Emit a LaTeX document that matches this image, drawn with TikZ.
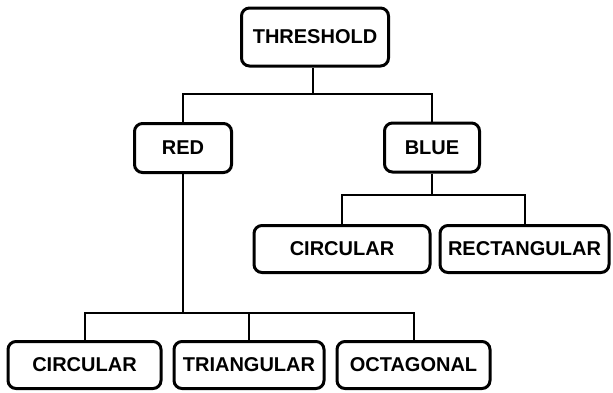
\documentclass[tikz,border=0pt]{standalone}
\usepackage{fontspec}
\setmainfont{Liberation Sans}
\begin{document}
\begin{tikzpicture}[x=1pt,y=-1pt,
  box/.style={draw=black, line width=3pt, rounded corners=8pt, fill=white,
    inner sep=0pt, minimum height=49pt, font=\fontsize{20}{23}\selectfont\bfseries},
  conn/.style={draw=black, line width=2pt}]
\useasboundingbox (0,0) rectangle (613,392);
\node[box, minimum width=147pt, minimum height=58pt] (thr) at (315,37) {THRESHOLD};
\node[box, minimum width=97pt] (red) at (183,148) {RED};
\node[box, minimum width=95pt] (blue) at (432,147.5) {BLUE};
\node[box, minimum width=176pt, minimum height=47pt] (circ2) at (342,249) {CIRCULAR};
\node[box, minimum width=169pt, minimum height=47pt] (rect) at (524.5,249) {RECTANGULAR};
\node[box, minimum width=153pt, minimum height=47pt] (circ1) at (84.5,365) {CIRCULAR};
\node[box, minimum width=150pt, minimum height=47pt] (tri) at (249,365) {TRIANGULAR};
\node[box, minimum width=153pt, minimum height=47pt] (oct) at (413.5,365) {OCTAGONAL};
\coordinate (j1) at (313,94);
\coordinate (j2) at (432,195);
\coordinate (j3) at (183,313);
\draw[conn] (thr.south -| j1) -- (j1);
\draw[conn] (red.north) |- (j1) -| (blue.north);
\draw[conn] (blue.south) -- (j2);
\draw[conn] (circ2.north) |- (j2) -| (rect.north);
\draw[conn] (red.south) -- (j3);
\draw[conn] (circ1.north) |- (j3) -| (oct.north);
\draw[conn] (tri.north) -- (tri.north |- j3);
\end{tikzpicture}
\end{document}
